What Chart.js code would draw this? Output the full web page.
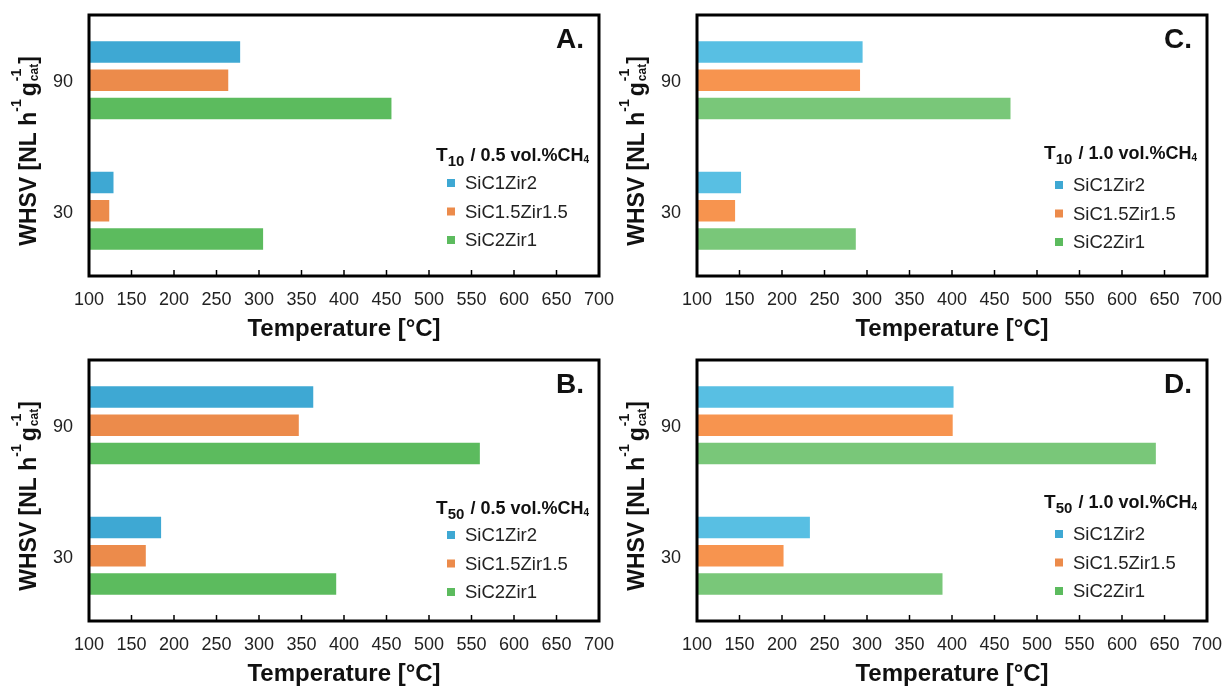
<!DOCTYPE html>
<html>
<head>
<meta charset="utf-8">
<script src="https://cdn.jsdelivr.net/npm/chart.js@4"></script>
<style>
html,body{margin:0;padding:0;background:#fff;overflow:hidden}
body{width:1226px;height:686px;position:relative}
.panel{position:absolute;width:619px;height:345px}
</style>
</head>
<body>

<div class="panel" style="left:0;top:0"><canvas id="chartA" width="619" height="345"></canvas></div>
<div class="panel" style="left:608px;top:0"><canvas id="chartC" width="619" height="345"></canvas></div>
<div class="panel" style="left:0;top:345px"><canvas id="chartB" width="619" height="345"></canvas></div>
<div class="panel" style="left:608px;top:345px"><canvas id="chartD" width="619" height="345"></canvas></div>

<script>

const FONT="'Liberation Sans', Arial, Helvetica, sans-serif"

// WHSV categories (top to bottom)
const categories=['90','30']
const seriesNames=['SiC1Zir2','SiC1.5Zir1.5','SiC2Zir1']
const tempTicks=[100,150,200,250,300,350,400,450,500,550,600,650,700]

// A. T10 / 0.5 vol.% CH4
const a_SiC1Zir2=[279,130]
const a_SiC15Zir15=[265,125]
const a_SiC2Zir1=[457,306]

// B. T50 / 0.5 vol.% CH4
const b_SiC1Zir2=[365,186]
const b_SiC15Zir15=[348,168]
const b_SiC2Zir1=[561,392]

// C. T10 / 1.0 vol.% CH4
const c_SiC1Zir2=[296,153]
const c_SiC15Zir15=[293,146]
const c_SiC2Zir1=[470,288]

// D. T50 / 1.0 vol.% CH4
const d_SiC1Zir2=[403,234]
const d_SiC15Zir15=[402,203]
const d_SiC2Zir1=[641,390]

const darkColors=['#3ea8d3','#ec8b4b','#5cbb5e']
const lightColors=['#58bfe3','#f7944f','#79c779']

function layoutParts(ctx,parts){
let x=0,prevX=0,prevW=0
let items=[]
parts.forEach(p=>{
ctx.font=p.font
let w=ctx.measureText(p.text).width
if(p.stack){
items.push({p:p,x:prevX})
x=Math.max(prevX+prevW,prevX+w)
prevW=Math.max(prevW,w)
}else{
items.push({p:p,x:x})
prevX=x
prevW=w
x+=w+(p.gap||0)
}
})
return {items:items,width:x}
}

function drawParts(ctx,parts,x0,y0,align){
let lay=layoutParts(ctx,parts)
let start=x0
if(align==='right') start=x0-lay.width
if(align==='center') start=x0-lay.width/2
ctx.textAlign='left'
ctx.textBaseline='alphabetic'
lay.items.forEach(it=>{
ctx.font=it.p.font
ctx.fillText(it.p.text,start+it.x,y0+(it.p.dy||0))
})
}

function decorPlugin(letter,tSub,vol,legendY,itemY){
return {
id:'decor',
afterDatasetsDraw(chart){
let ctx=chart.ctx
let a=chart.chartArea
let xs=chart.scales.x
ctx.save()

// frame
ctx.strokeStyle='#000'
ctx.lineWidth=3
ctx.strokeRect(a.left,a.top,a.right-a.left,a.bottom-a.top)

// inner tick marks on the bottom
ctx.lineWidth=1.5
tempTicks.slice(1,-1).forEach(v=>{
let px=xs.getPixelForValue(v)
ctx.beginPath()
ctx.moveTo(px,a.bottom)
ctx.lineTo(px,a.bottom-6)
ctx.stroke()
})

// panel letter
ctx.fillStyle='#111'
ctx.font='bold 28px '+FONT
ctx.textAlign='right'
ctx.textBaseline='alphabetic'
ctx.fillText(letter,a.right-15,a.top+33)

// legend title
ctx.fillStyle='#111'
drawParts(ctx,[
{text:'T',font:'bold 19px '+FONT},
{text:tSub,font:'bold 15px '+FONT,dy:5,gap:1},
{text:' / '+vol+' vol.%CH',font:'bold 18px '+FONT},
{text:'4',font:'bold 10px '+FONT,dy:2}
],a.right-10,legendY+6,'right')

// legend items
chart.data.datasets.forEach((ds,i)=>{
let y=itemY+i*28.5
ctx.fillStyle=darkColors[i]
ctx.fillRect(a.right-152,y-4,8,8)
ctx.fillStyle='#222'
ctx.font='18.5px '+FONT
ctx.textAlign='left'
ctx.textBaseline='middle'
ctx.fillText(ds.label,a.right-134,y+1)
})

// y axis title with super/subscripts
ctx.translate(28,151)
ctx.rotate(-Math.PI/2)
ctx.fillStyle='#111'
drawParts(ctx,[
{text:'WHSV [NL h',font:'bold 23px '+FONT},
{text:'-1',font:'bold 14px '+FONT,dy:-15,gap:3},
{text:'g',font:'bold 23px '+FONT,gap:1},
{text:'cat',font:'bold 12px '+FONT,dy:2},
{text:'-1',font:'bold 14px '+FONT,dy:-15,stack:true},
{text:']',font:'bold 23px '+FONT}
],0,8,'center')

ctx.restore()
}
}
}

function makeChart(id,letter,tSub,vol,values,colors,legendY,itemY){

let datasets=seriesNames.map((name,i)=>({
label:name,
data:values[i],
backgroundColor:colors[i],
borderColor:'rgba(255,255,255,0.35)',
borderWidth:1
}))

new Chart(document.getElementById(id),{
type:'bar',
data:{labels:categories,datasets:datasets},
options:{
responsive:false,
animation:false,
indexAxis:'y',
layout:{padding:{top:15,right:20,left:0,bottom:0}},
datasets:{bar:{categoryPercentage:0.65,barPercentage:0.83}},
plugins:{legend:{display:false},tooltip:{enabled:false}},
scales:{
x:{
min:tempTicks[0],
max:tempTicks[tempTicks.length-1],
ticks:{stepSize:tempTicks[1]-tempTicks[0],color:'#222',padding:5,font:{family:FONT,size:18}},
grid:{display:false},
border:{display:false},
title:{display:true,text:'Temperature [°C]',color:'#111',padding:{top:0,bottom:1},font:{family:FONT,size:24,weight:'bold'}},
afterFit:s=>{s.height=69;s.paddingLeft=0;s.paddingRight=0}
},
y:{
ticks:{color:'#222',padding:8,labelOffset:2,font:{family:FONT,size:18}},
grid:{display:false},
border:{display:false},
afterFit:s=>{s.width=89;s.paddingTop=0;s.paddingBottom=0}
}
}
},
plugins:[decorPlugin(letter,tSub,vol,legendY,itemY)]
})

}

makeChart('chartA','A.','10','0.5',[a_SiC1Zir2,a_SiC15Zir15,a_SiC2Zir1],darkColors,155,183)
makeChart('chartB','B.','50','0.5',[b_SiC1Zir2,b_SiC15Zir15,b_SiC2Zir1],darkColors,163,190)
makeChart('chartC','C.','10','1.0',[c_SiC1Zir2,c_SiC15Zir15,c_SiC2Zir1],lightColors,153,185)
makeChart('chartD','D.','50','1.0',[d_SiC1Zir2,d_SiC15Zir15,d_SiC2Zir1],lightColors,157,189)

</script>
</body>
</html>
